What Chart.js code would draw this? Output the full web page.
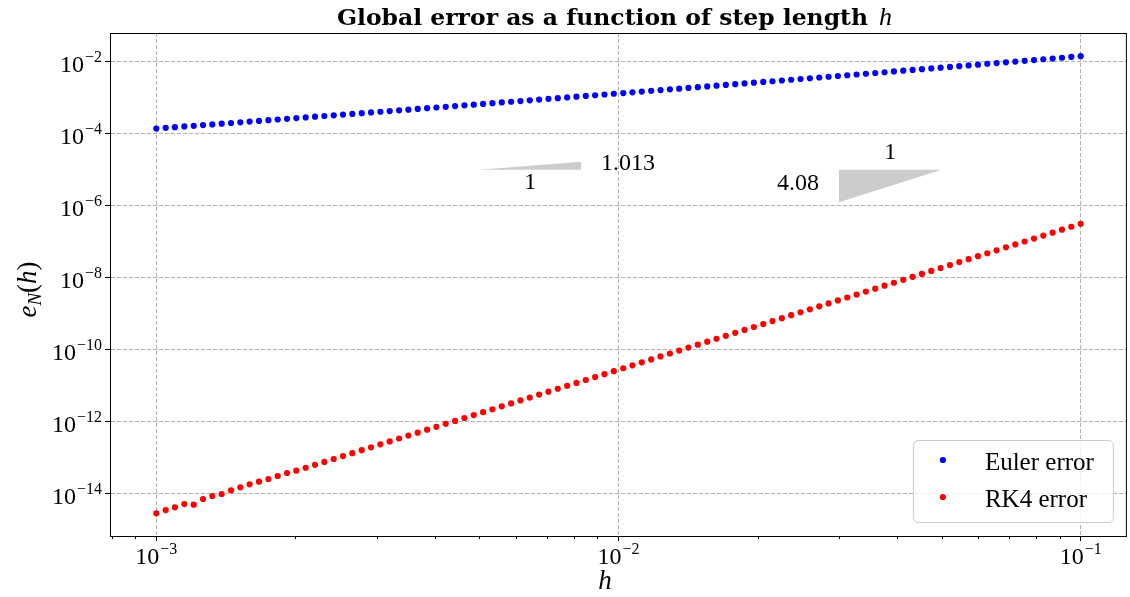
<!DOCTYPE html>
<html>
<head>
<meta charset="utf-8">
<title>Global error as a function of step length h</title>
<script src="https://cdn.jsdelivr.net/npm/chart.js@4.4.1/dist/chart.umd.min.js"></script>
<style>
  html, body { margin: 0; padding: 0; background: #fff; }
  #wrap { position: relative; width: 1130px; height: 597px; }
</style>
</head>
<body>
<div id="wrap"><canvas id="errorChart"></canvas></div>
<script>
// step lengths h (100 points, log spaced between 1e-3 and 1e-1)
const stepSizes = [
  1.000e-3, 1.048e-3, 1.097e-3, 1.150e-3, 1.205e-3, 1.262e-3, 1.322e-3, 1.385e-3, 1.451e-3, 1.520e-3,
  1.592e-3, 1.668e-3, 1.748e-3, 1.831e-3, 1.918e-3, 2.009e-3, 2.105e-3, 2.205e-3, 2.310e-3, 2.420e-3,
  2.535e-3, 2.656e-3, 2.783e-3, 2.915e-3, 3.054e-3, 3.199e-3, 3.352e-3, 3.511e-3, 3.678e-3, 3.854e-3,
  4.037e-3, 4.229e-3, 4.431e-3, 4.642e-3, 4.863e-3, 5.094e-3, 5.337e-3, 5.591e-3, 5.857e-3, 6.136e-3,
  6.428e-3, 6.734e-3, 7.055e-3, 7.391e-3, 7.743e-3, 8.111e-3, 8.498e-3, 8.902e-3, 9.326e-3, 9.770e-3,
  1.024e-2, 1.072e-2, 1.123e-2, 1.177e-2, 1.233e-2, 1.292e-2, 1.353e-2, 1.417e-2, 1.485e-2, 1.556e-2,
  1.630e-2, 1.707e-2, 1.789e-2, 1.874e-2, 1.963e-2, 2.057e-2, 2.154e-2, 2.257e-2, 2.364e-2, 2.477e-2,
  2.595e-2, 2.719e-2, 2.848e-2, 2.984e-2, 3.126e-2, 3.275e-2, 3.430e-2, 3.594e-2, 3.765e-2, 3.944e-2,
  4.132e-2, 4.329e-2, 4.535e-2, 4.751e-2, 4.977e-2, 5.214e-2, 5.462e-2, 5.722e-2, 5.995e-2, 6.280e-2,
  6.579e-2, 6.893e-2, 7.221e-2, 7.565e-2, 7.925e-2, 8.302e-2, 8.697e-2, 9.112e-2, 9.545e-2, 1.000e-1
];

// global error e_N(h), explicit Euler
const eulerError = [
  1.403e-4, 1.466e-4, 1.533e-4, 1.602e-4, 1.674e-4, 1.750e-4, 1.830e-4, 1.913e-4, 2.000e-4, 2.092e-4,
  2.187e-4, 2.287e-4, 2.392e-4, 2.502e-4, 2.617e-4, 2.737e-4, 2.863e-4, 2.995e-4, 3.133e-4, 3.277e-4,
  3.429e-4, 3.588e-4, 3.754e-4, 3.928e-4, 4.111e-4, 4.302e-4, 4.503e-4, 4.713e-4, 4.933e-4, 5.163e-4,
  5.405e-4, 5.659e-4, 5.924e-4, 6.203e-4, 6.494e-4, 6.800e-4, 7.121e-4, 7.457e-4, 7.810e-4, 8.179e-4,
  8.567e-4, 8.973e-4, 9.399e-4, 9.846e-4, 1.031e-3, 1.081e-3, 1.132e-3, 1.186e-3, 1.243e-3, 1.303e-3,
  1.365e-3, 1.431e-3, 1.500e-3, 1.572e-3, 1.647e-3, 1.727e-3, 1.810e-3, 1.898e-3, 1.990e-3, 2.086e-3,
  2.187e-3, 2.294e-3, 2.405e-3, 2.522e-3, 2.645e-3, 2.775e-3, 2.910e-3, 3.053e-3, 3.202e-3, 3.359e-3,
  3.524e-3, 3.697e-3, 3.879e-3, 4.070e-3, 4.271e-3, 4.482e-3, 4.703e-3, 4.936e-3, 5.181e-3, 5.438e-3,
  5.708e-3, 5.992e-3, 6.290e-3, 6.603e-3, 6.933e-3, 7.279e-3, 7.643e-3, 8.026e-3, 8.428e-3, 8.851e-3,
  9.296e-3, 9.765e-3, 1.026e-2, 1.077e-2, 1.132e-2, 1.189e-2, 1.249e-2, 1.312e-2, 1.379e-2, 1.449e-2
];

// global error e_N(h), classical RK4
const rk4Error = [
  2.735e-15, 3.381e-15, 4.018e-15, 4.966e-15, 4.753e-15, 6.855e-15, 8.299e-15, 9.441e-15, 1.197e-14, 1.452e-14,
  1.758e-14, 2.080e-14, 2.472e-14, 2.992e-14, 3.631e-14, 4.207e-14, 5.075e-14, 6.122e-14, 7.384e-14, 8.908e-14,
  1.075e-13, 1.296e-13, 1.564e-13, 1.886e-13, 2.275e-13, 2.745e-13, 3.311e-13, 3.994e-13, 4.816e-13, 5.811e-13,
  7.009e-13, 8.453e-13, 1.020e-12, 1.230e-12, 1.484e-12, 1.790e-12, 2.159e-12, 2.605e-12, 3.141e-12, 3.789e-12,
  4.571e-12, 5.513e-12, 6.651e-12, 8.023e-12, 9.678e-12, 1.167e-11, 1.408e-11, 1.699e-11, 2.049e-11, 2.472e-11,
  2.987e-11, 3.606e-11, 4.357e-11, 5.262e-11, 6.358e-11, 7.681e-11, 9.277e-11, 1.121e-10, 1.354e-10, 1.635e-10,
  1.976e-10, 2.387e-10, 2.883e-10, 3.483e-10, 4.207e-10, 5.082e-10, 6.138e-10, 7.416e-10, 8.957e-10, 1.082e-9,
  1.307e-9, 1.579e-9, 1.907e-9, 2.304e-9, 2.783e-9, 3.362e-9, 4.061e-9, 4.906e-9, 5.926e-9, 7.159e-9,
  8.649e-9, 1.045e-8, 1.262e-8, 1.524e-8, 1.841e-8, 2.225e-8, 2.687e-8, 3.246e-8, 3.921e-8, 4.736e-8,
  5.722e-8, 6.911e-8, 8.348e-8, 1.008e-7, 1.218e-7, 1.472e-7, 1.778e-7, 2.148e-7, 2.594e-7, 3.133e-7
];

// slope triangles (corner points) and their labels
const eulerTriH = [5.0e-3, 8.3e-3, 8.3e-3];
const eulerTriE = [1.0e-5, 1.0e-5, 1.67e-5];
const eulerTriLabels = ['1', '1.013'];
const rk4TriH = [3.0e-2, 3.0e-2, 5.0e-2];
const rk4TriE = [1.24e-6, 1.0e-5, 1.0e-5];
const rk4TriLabels = ['1', '4.08'];

// ticks
const xTicks = [1e-3, 1e-2, 1e-1];
const xTickExps = ['\u22123', '\u22122', '\u22121'];
const xMinorTicks = [8e-4, 9e-4, 2e-3, 3e-3, 4e-3, 5e-3, 6e-3, 7e-3, 8e-3, 9e-3,
                     2e-2, 3e-2, 4e-2, 5e-2, 6e-2, 7e-2, 8e-2, 9e-2];
const yTicks = [1e-14, 1e-12, 1e-10, 1e-8, 1e-6, 1e-4, 1e-2];
const yTickExps = ['\u221214', '\u221212', '\u221210', '\u22128', '\u22126', '\u22124', '\u22122'];

const seriesNames = ['Euler error', 'RK4 error'];

const X_MIN = 7.94e-4, X_MAX = 0.1259;
const Y_MIN = 6.4e-16, Y_MAX = 6.4e-2;

const SERIF = '"Liberation Serif", "Times New Roman", serif';
const TITLE_FONT = '"DejaVu Serif", serif';
const GRID_COLOR = '#b0b0b0';
const EULER_COLOR = '#0000ff';
const RK4_COLOR = '#ff0000';
const TRI_COLOR = '#cccccc';
const DOT_R = 3.1;

const toPoints = (xs, ys) => xs.map((v, i) => ({ x: v, y: ys[i] }));

function drawPow(ctx, exp, x, y, align) {
  ctx.font = `24px ${SERIF}`;
  const wb = ctx.measureText('10').width;
  ctx.font = `16px ${SERIF}`;
  const we = ctx.measureText(exp).width;
  const total = wb + 1 + we;
  const x0 = align === 'right' ? x - total : x - total / 2;
  ctx.textAlign = 'left';
  ctx.textBaseline = 'alphabetic';
  ctx.font = `24px ${SERIF}`;
  ctx.fillText('10', x0, y);
  ctx.font = `16px ${SERIF}`;
  ctx.fillText(exp, x0 + wb + 1, y - 10);
}

// draws a run of [text, font, dy] pieces starting at x
function drawRun(ctx, pieces, x, y) {
  let cx = x;
  for (const [t, f, dy] of pieces) {
    ctx.font = f;
    ctx.fillText(t, cx, y + (dy || 0));
    cx += ctx.measureText(t).width;
  }
}
function runWidth(ctx, pieces) {
  let w = 0;
  for (const [t, f] of pieces) { ctx.font = f; w += ctx.measureText(t).width; }
  return w;
}

const overlay = {
  id: 'overlay',
  afterDraw(chart) {
    const { ctx, chartArea: a, scales: { x, y } } = chart;
    ctx.save();
    ctx.fillStyle = '#000';
    ctx.strokeStyle = '#000';

    // top and right spines
    ctx.lineWidth = 1;
    ctx.beginPath();
    ctx.moveTo(a.left, a.top + 0.5); ctx.lineTo(a.right, a.top + 0.5);
    ctx.moveTo(a.right - 0.5, a.top); ctx.lineTo(a.right - 0.5, a.bottom);
    ctx.stroke();

    // minor x ticks
    ctx.beginPath();
    xMinorTicks.forEach(v => {
      const px = Math.round(x.getPixelForValue(v)) + 0.5;
      ctx.moveTo(px, a.bottom); ctx.lineTo(px, a.bottom + 3);
    });
    ctx.stroke();

    // tick labels
    xTicks.forEach((v, i) => drawPow(ctx, xTickExps[i], x.getPixelForValue(v), a.bottom + 28, 'center'));
    yTicks.forEach((v, i) => drawPow(ctx, yTickExps[i], a.left - 8, y.getPixelForValue(v) + 10.5, 'right'));

    // slope labels
    ctx.font = `24px ${SERIF}`;
    ctx.textBaseline = 'middle';
    const e0 = { x: x.getPixelForValue(eulerTriH[0]), y: y.getPixelForValue(eulerTriE[0]) };
    const e1 = { x: x.getPixelForValue(eulerTriH[2]), y: y.getPixelForValue(eulerTriE[2]) };
    ctx.textAlign = 'center';
    ctx.fillText(eulerTriLabels[0], (e0.x + e1.x) / 2, e0.y + 13);
    ctx.textAlign = 'left';
    ctx.fillText(eulerTriLabels[1], e1.x + 20, (e0.y + e1.y) / 2 - 2);

    const r0 = { x: x.getPixelForValue(rk4TriH[0]), y: y.getPixelForValue(rk4TriE[0]) };
    const r1 = { x: x.getPixelForValue(rk4TriH[2]), y: y.getPixelForValue(rk4TriE[2]) };
    ctx.textAlign = 'center';
    ctx.fillText(rk4TriLabels[0], (r0.x + r1.x) / 2, r1.y - 17);
    ctx.textAlign = 'right';
    ctx.fillText(rk4TriLabels[1], r0.x - 20, (r0.y + r1.y) / 2 - 2);

    // legend
    const lw = 200, lh = 82;
    const lx = a.right - 14 - lw, ly = a.bottom - 14 - lh;
    ctx.beginPath();
    ctx.roundRect(lx + 0.5, ly + 0.5, lw, lh, 5);
    ctx.fillStyle = 'rgba(255,255,255,0.8)';
    ctx.fill();
    ctx.strokeStyle = '#cccccc';
    ctx.stroke();
    [EULER_COLOR, RK4_COLOR].forEach((c, i) => {
      const ry = ly + 20 + i * 37;
      ctx.fillStyle = c;
      ctx.beginPath();
      ctx.arc(lx + 30, ry, DOT_R, 0, Math.PI * 2);
      ctx.fill();
      ctx.fillStyle = '#000';
      ctx.font = `25px ${SERIF}`;
      ctx.textAlign = 'left';
      ctx.textBaseline = 'alphabetic';
      ctx.fillText(seriesNames[i], lx + 72, ry + 10);
    });

    // title
    ctx.fillStyle = '#000';
    ctx.textAlign = 'left';
    ctx.textBaseline = 'alphabetic';
    const titleText = 'Global error as a function of step length';
    ctx.font = `bold 22px ${TITLE_FONT}`;
    const tw = ctx.measureText(titleText).width;
    const targetW = 531;
    ctx.save();
    ctx.translate(337, 25);
    ctx.scale(targetW / tw, 1);
    ctx.fillText(titleText, 0, 0);
    ctx.restore();
    ctx.font = `italic 26px ${SERIF}`;
    ctx.fillText('h', 879, 25);

    // x label
    ctx.textAlign = 'center';
    ctx.font = `italic 27px ${SERIF}`;
    ctx.fillText('h', 605, 589);

    // y label  e_N(h)
    const yl = [
      ['e', `italic 27px ${SERIF}`, 0],
      ['N', `italic 19px ${SERIF}`, 5],
      ['(', `27px ${SERIF}`, 0],
      ['h', `italic 27px ${SERIF}`, 0],
      [')', `27px ${SERIF}`, 0],
    ];
    ctx.save();
    ctx.translate(36, (a.top + a.bottom) / 2 + 5);
    ctx.rotate(-Math.PI / 2);
    ctx.textAlign = 'left';
    drawRun(ctx, yl, -runWidth(ctx, yl) / 2, 0);
    ctx.restore();

    ctx.restore();
  }
};

const cfg = {
  type: 'scatter',
  data: {
    datasets: [
      {
        label: seriesNames[0],
        data: toPoints(stepSizes, eulerError),
        backgroundColor: EULER_COLOR,
        borderColor: EULER_COLOR,
        pointRadius: DOT_R,
        pointBorderWidth: 0,
        pointHoverRadius: DOT_R,
      },
      {
        label: seriesNames[1],
        data: toPoints(stepSizes, rk4Error),
        backgroundColor: RK4_COLOR,
        borderColor: RK4_COLOR,
        pointRadius: DOT_R,
        pointBorderWidth: 0,
        pointHoverRadius: DOT_R,
      },
      {
        label: 'slope Euler',
        data: toPoints(eulerTriH, eulerTriE),
        showLine: true,
        fill: 'shape',
        backgroundColor: TRI_COLOR,
        borderColor: 'rgba(0,0,0,0)',
        borderWidth: 0,
        pointRadius: 0,
        tension: 0,
      },
      {
        label: 'slope RK4',
        data: toPoints(rk4TriH, rk4TriE),
        showLine: true,
        fill: 'shape',
        backgroundColor: TRI_COLOR,
        borderColor: 'rgba(0,0,0,0)',
        borderWidth: 0,
        pointRadius: 0,
        tension: 0,
      },
    ],
  },
  options: {
    responsive: true,
    maintainAspectRatio: false,
    animation: false,
    layout: { padding: { top: 33, left: 0, right: 0, bottom: 0 } },
    plugins: {
      legend: { display: false },
      title: { display: false },
      tooltip: { enabled: false },
    },
    scales: {
      x: {
        type: 'logarithmic',
        min: X_MIN,
        max: X_MAX,
        afterBuildTicks: s => { s.ticks = xTicks.map(v => ({ value: v })); },
        afterFit: s => { s.height = 61; },
        ticks: { display: false },
        grid: { color: GRID_COLOR, lineWidth: 1, tickLength: 5, tickColor: '#000', tickWidth: 1 },
        border: { display: true, color: '#000', width: 1, dash: [4, 2] },
      },
      y: {
        type: 'logarithmic',
        min: Y_MIN,
        max: Y_MAX,
        afterBuildTicks: s => { s.ticks = yTicks.map(v => ({ value: v })); },
        afterFit: s => { s.width = 110; },
        ticks: { display: false },
        grid: { color: GRID_COLOR, lineWidth: 1, tickLength: 5, tickColor: '#000', tickWidth: 1 },
        border: { display: true, color: '#000', width: 1, dash: [4, 2] },
      },
    },
  },
  plugins: [overlay],
};

new Chart(document.getElementById('errorChart'), cfg);
</script>
</body>
</html>
